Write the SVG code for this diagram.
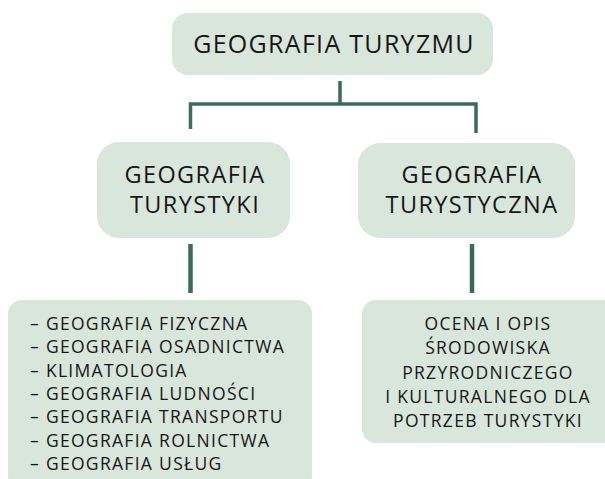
<svg xmlns="http://www.w3.org/2000/svg" width="605" height="479" viewBox="0 0 605 479">
<style>
.box{fill:#d9e6dc}
.t{font-family:"Open Sans","Noto Sans",sans-serif;fill:#161616;font-weight:500}
.big{font-size:25px;letter-spacing:1.3px}
.mid{font-size:23.5px;letter-spacing:1.4px}
.sm{font-size:17.5px;letter-spacing:1.3px}
.c{fill:none;stroke:#3d6b5b;stroke-width:3.5}
</style>
<rect width="605" height="479" fill="#ffffff"/>
<g id="connectors">
<path class="c" d="M340 81V104M190.5 129V104H476V133"/>
<path class="c" d="M190.5 244V293M472 244V293" style="stroke-width:4.5"/>
</g>
<g id="root">
<rect class="box" x="172" y="13" width="321" height="62" rx="16"/>
<text class="t big" x="334" y="53" text-anchor="middle">GEOGRAFIA TURYZMU</text>
</g>
<g id="left">
<rect class="box" x="97" y="142" width="193" height="96" rx="22"/>
<text class="t mid" x="195" y="183" text-anchor="middle">GEOGRAFIA</text>
<text class="t mid" x="195" y="213" text-anchor="middle">TURYSTYKI</text>
</g>
<g id="right">
<rect class="box" x="358" y="143" width="217" height="95" rx="22"/>
<text class="t mid" x="472" y="183" text-anchor="middle">GEOGRAFIA</text>
<text class="t mid" x="472" y="213" text-anchor="middle">TURYSTYCZNA</text>
</g>
<g id="left-list">
<rect class="box" x="8" y="300" width="304" height="190" rx="14"/>
<text class="t sm" x="30" y="330">– GEOGRAFIA FIZYCZNA</text>
<text class="t sm" x="30" y="353.3">– GEOGRAFIA OSADNICTWA</text>
<text class="t sm" x="30" y="376.6">– KLIMATOLOGIA</text>
<text class="t sm" x="30" y="400">– GEOGRAFIA LUDNOŚCI</text>
<text class="t sm" x="30" y="423.3">– GEOGRAFIA TRANSPORTU</text>
<text class="t sm" x="30" y="446.6">– GEOGRAFIA ROLNICTWA</text>
<text class="t sm" x="30" y="470">– GEOGRAFIA USŁUG</text>
</g>
<g id="right-desc">
<rect class="box" x="362" y="300" width="260" height="143" rx="14"/>
<text class="t sm" x="488" y="330" text-anchor="middle">OCENA I OPIS</text>
<text class="t sm" x="488" y="354.25" text-anchor="middle">ŚRODOWISKA</text>
<text class="t sm" x="488" y="378.5" text-anchor="middle">PRZYRODNICZEGO</text>
<text class="t sm" x="488" y="402.75" text-anchor="middle">I KULTURALNEGO DLA</text>
<text class="t sm" x="488" y="427" text-anchor="middle">POTRZEB TURYSTYKI</text>
</g>
</svg>
